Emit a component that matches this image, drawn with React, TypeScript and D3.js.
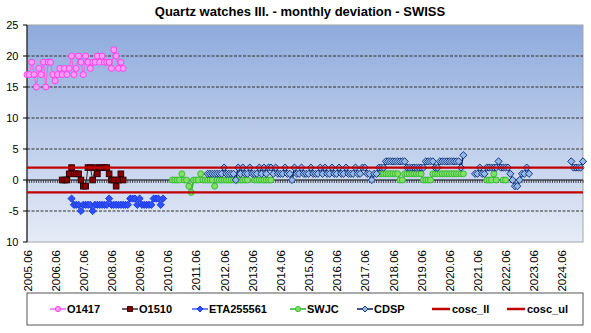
import React from "react";
import * as d3 from "d3";

// ---------- DATA ----------
const firstMonth = "2005.06";
const lastMonth = "2025.03";

const xTickLabels = [
  "2005.06", "2006.06", "2007.06", "2008.06", "2009.06", "2010.06", "2011.06",
  "2012.06", "2013.06", "2014.06", "2015.06", "2016.06", "2017.06", "2018.06",
  "2019.06", "2020.06", "2021.06", "2022.06", "2023.06", "2024.06",
];
const yTicks = [25, 20, 15, 10, 5, 0, -5, -10];
const yTickLabels = ["25", "20", "15", "10", "5", "0", "-5", "10"];
const gridValues = [20, 15, 10, 5, -5];

const o1417Start = "2005.06";
const o1417 = [17, 17, 19, 17, 15, 18, 17, 19, 15, 19, 19, 17, 16, 17, 18, 17, 18, 17, 18, 20, 17,
  18, 20, 19, 17, 20, 19, 18, 19, 19, 20, 19, 20, 19, 19, 19, 18, 21, 20, 18, 19, 18];

const o1510Start = "2006.09";
const o1510 = [0, 0, 0, 1, 2, 1, 1, 1, 0, -1, -1, 2, 2, 0, 2, 1, 2, 2, 2, 2, 1, 0, 0, -1, 0, 1, 0];

const eta255561Start = "2007.01";
const eta255561 = [-3, -4, -4, -4, -5, -4, -4, -4, -4, -5, -4, -4, -4, -4, -4, -4, -3, -4, -4, -4,
  -4, -4, -4, -4, -4, -3, -3, -3, -4, -3, -4, -4, -4, -4, -4, -3, -3, -3, -4, -3];

const swjcStart = "2010.08";
const swjc: (number | null)[] = [
  0, 0, 0, 0, 1, 0, 0, -1, -2, 0, 0, 0, 1, 0, 0, 0, 0, 0, -1, 0,
  0, 0, 0, 0, 0, 0, 0, 0, 0, 0, 0, 0, 0, null, null, 0, 0, 0, 0, 0,
  0, 0, 0, null, null, null, null, null, null, null, null, null, null, null, null, null, null, null, null, null,
  null, null, null, null, null, null, null, null, null, null, null, null, null, null, null, null, null, null, null, null,
  null, null, null, null, null, null, null, null, 1, 1, 1, 1, 1, 1, 1, 1, 1, 0, 0, 1, 1, 1, 1, 1,
  1, 1, 1, 0, 0, 0, 0, 1, 1, 1, 1, 1, 1, 1, 1, 1, 1, 1, 1, 1,
  1, null, null, null, null, null, null, null, null, null, 0, 0, 0, 1, 0, null, null, 0, 0,
];

const cdspStart = "2011.11";
const cdsp: (number | null)[] = [
  1, 1, 1, 1, 1, 1, 1, 2, 1, 1, 1, 1, 0, 2, 1, 2, 1, 1, 2, 1,
  1, 1, 2, 1, 2, 1, 2, 2, 1, 2, 1, 1, 1, 2, 1, 1, 0, 2, 1, 1,
  2, 1, 1, 1, 2, 1, 1, 1, 2, 1, 2, 1, 1, 2, 1, 1, 2, 1, 1, 2,
  1, 1, 1, 2, 1, 1, 2, 2, 1, 1, 0, 1, 1, 2, 2, 2, 3, 3, 3, 3,
  3, 3, 3, 3, 3, 2, 2, 2, 2, 2, 2, 2, 2, 3, 3, 3, 3, 2, 2, 3,
  3, 3, 3, 3, 3, 3, 3, 3, 2, 4, null, null, null, null, 1, 1, 2, 1, 1, 2,
  2, 2, 2, 2, 3, 2, 2, 2, 2, 1, 0, -1, -1, 0, 1, 1, 2, 1,
  null, null, null, null, null, null, null, null, null, null, null, null, null, null, null, null, null,
  3, 2, 2, 2, 2, 3,
];

const coscLl = -2;
const coscUl = 2;

const legendNames = ["O1417", "O1510", "ETA255561", "SWJC", "CDSP", "cosc_ll", "cosc_ul"];

// ---------- HELPERS ----------
function buildMonths(from: string, to: string): string[] {
  const out: string[] = [];
  let [y, m] = from.split(".").map(Number);
  const [ty, tm] = to.split(".").map(Number);
  while (y < ty || (y === ty && m <= tm)) {
    out.push(`${y}.${String(m).padStart(2, "0")}`);
    m++;
    if (m > 12) { m = 1; y++; }
  }
  return out;
}
const categories = buildMonths(firstMonth, lastMonth);

type Pt = { c: string; v: number | null };
function toPoints(start: string, vals: (number | null)[]): Pt[] {
  const s = categories.indexOf(start);
  return vals.map((v, i) => ({ c: categories[s + i], v }));
}

const W = 591, H = 333;
const plotL = 27, plotR = 583, plotT = 25, plotB = 242;
const FONT = "'Liberation Sans', Arial, sans-serif";

const x = d3.scalePoint<string>().domain(categories).range([plotL, plotR]);
const y = d3.scaleLinear().domain([-10, 25]).range([plotB, plotT]);

const lineGen = d3.line<Pt>()
  .defined((d) => d.v !== null)
  .x((d) => x(d.c) as number)
  .y((d) => y(d.v as number));

function Marker({ kind, cx, cy, fill, stroke, size }: any) {
  if (kind === "circle") return <circle cx={cx} cy={cy} r={size} fill={fill} stroke={stroke} strokeWidth={1} />;
  if (kind === "square")
    return <rect x={cx - size} y={cy - size} width={size * 2} height={size * 2} fill={fill} stroke={stroke} strokeWidth={1} />;
  return (
    <path d={`M${cx},${cy - size}L${cx + size},${cy}L${cx},${cy + size}L${cx - size},${cy}Z`} fill={fill} stroke={stroke} strokeWidth={1} />
  );
}

const seriesDefs = [
  { name: "O1417", pts: toPoints(o1417Start, o1417), line: "#ff5cf0", lw: 1, kind: "circle", fill: "#ff9cff", stroke: "#ff40e8", size: 3 },
  { name: "O1510", pts: toPoints(o1510Start, o1510), line: "#3a2a2a", lw: 1, kind: "square", fill: "#8a0000", stroke: "#300000", size: 2.8 },
  { name: "ETA255561", pts: toPoints(eta255561Start, eta255561), line: "#3a5cff", lw: 1, kind: "diamond", fill: "#2f50ff", stroke: "#1e3ae0", size: 3.6 },
  { name: "SWJC", pts: toPoints(swjcStart, swjc), line: "#2ab52a", lw: 1.5, kind: "circle", fill: "#82e062", stroke: "#3cbc3c", size: 3 },
  { name: "CDSP", pts: toPoints(cdspStart, cdsp), line: "#081f5c", lw: 1.6, kind: "diamond", fill: "#95b8e8", stroke: "#173a80", size: 3.6 },
];

export default function App() {
  const y0 = y(0);
  const legendY = 309;
  const legendItems = [
    { x: 50, kind: "circle", line: "#ff5cf0", fill: "#ff9cff", stroke: "#ff40e8", size: 2.6 },
    { x: 122, kind: "square", line: "#3a2a2a", fill: "#8a0000", stroke: "#300000", size: 2.4 },
    { x: 192, kind: "diamond", line: "#3a5cff", fill: "#2f50ff", stroke: "#1e3ae0", size: 3 },
    { x: 290, kind: "circle", line: "#2ab52a", fill: "#82e062", stroke: "#3cbc3c", size: 2.6 },
    { x: 357, kind: "diamond", line: "#081f5c", fill: "#95b8e8", stroke: "#173a80", size: 3 },
    { x: 432, kind: "red", line: "#c00000" },
    { x: 507, kind: "red", line: "#c00000" },
  ];
  return (
    <svg width={W} height={H} style={{ position: "absolute", left: 0, top: 0, background: "#fff" }} fontFamily={FONT}>
      <defs>
        <linearGradient id="plotBg" x1="0" y1="0" x2="0" y2="1">
          <stop offset="0%" stopColor="#8eaadc" />
          <stop offset="100%" stopColor="#e6ecf7" />
        </linearGradient>
      </defs>
      <text x={300} y={15.5} textAnchor="middle" fontSize={13} fontWeight="bold" fill="#000">
        Quartz watches III. - monthly deviation - SWISS
      </text>
      <rect x={plotL} y={plotT} width={plotR - plotL} height={plotB - plotT} fill="url(#plotBg)" stroke="#a6a6a6" strokeWidth={1} />
      {gridValues.map((g) => (
        <line key={g} x1={plotL} x2={plotR} y1={y(g)} y2={y(g)} stroke="#303030" strokeWidth={1} strokeDasharray="3,1.5" />
      ))}
      {/* x axis at zero with ticks */}
      <line x1={plotL} x2={plotR} y1={y0} y2={y0} stroke="#000" strokeWidth={1} />
      {categories.map((c) => (
        <line key={c} x1={(x(c) as number)} x2={(x(c) as number)} y1={y0} y2={y0 + 3} stroke="#222" strokeWidth={0.8} />
      ))}
      {/* y axis */}
      <line x1={plotL} x2={plotL} y1={plotT} y2={plotB} stroke="#000" strokeWidth={1} />
      {yTicks.map((t, i) => (
        <g key={t}>
          <line x1={plotL - 4} x2={plotL} y1={y(t)} y2={y(t)} stroke="#000" />
          <text x={18.5} y={y(t)} dy="0.35em" textAnchor="end" fontSize={11} fill="#000">{yTickLabels[i]}</text>
        </g>
      ))}
      {xTickLabels.map((l) => (
        <text key={l} transform={`translate(${(x(l) as number) + 0.5},250) rotate(-90)`} textAnchor="end" dy="0.35em" fontSize={11.5} fill="#000">
          {l}
        </text>
      ))}
      {/* series */}
      {seriesDefs.map((s) => (
        <g key={s.name}>
          <path d={lineGen(s.pts) || ""} fill="none" stroke={s.line} strokeWidth={s.lw} />
          {s.pts.filter((p) => p.v !== null).map((p, i) => (
            <Marker key={i} kind={s.kind} cx={x(p.c)} cy={y(p.v as number)} fill={s.fill} stroke={s.stroke} size={s.size} />
          ))}
        </g>
      ))}
      {[coscLl, coscUl].map((v, i) => (
        <line key={i} x1={x(categories[0])} x2={x(categories[categories.length - 1])} y1={y(v)} y2={y(v)} stroke="#c00000" strokeWidth={2.2} />
      ))}
      {/* legend */}
      <rect x={27} y={293} width={556} height={32} fill="#fff" stroke="#555" strokeWidth={1} />
      {legendItems.map((it, i) => (
        <g key={i}>
          {it.kind === "red" ? (
            <line x1={it.x} x2={it.x + 18} y1={legendY} y2={legendY} stroke={it.line} strokeWidth={2.5} />
          ) : (
            <>
              <line x1={it.x} x2={it.x + 16} y1={legendY} y2={legendY} stroke={it.line} strokeWidth={1.5} />
              <Marker kind={it.kind} cx={it.x + 8} cy={legendY} fill={(it as any).fill} stroke={(it as any).stroke} size={(it as any).size} />
            </>
          )}
          <text x={it.x + (it.kind === "red" ? 20 : 17)} y={legendY} dy="0.35em" fontSize={11} fontWeight="bold" fill="#000">
            {legendNames[i]}
          </text>
        </g>
      ))}
    </svg>
  );
}
